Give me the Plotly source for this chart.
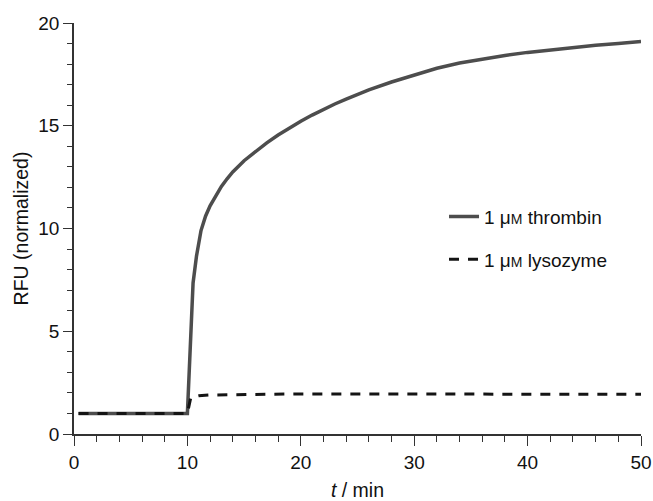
import plotly.graph_objects as go

# Thrombin trace (t in min, RFU normalized)
t_thrombin = [0.4, 2, 4, 6, 8, 10.0, 10.5, 10.8, 11.2, 11.6, 12, 12.5, 13, 13.5, 14, 15, 16,
              17, 18, 19, 20, 21, 22, 23, 24, 26, 28, 30, 32, 34, 36, 38, 40, 42, 44, 46,
              48, 50]
rfu_thrombin = [1.0, 1.0, 1.0, 1.0, 1.0, 1.0, 7.35, 8.65, 9.9, 10.6, 11.1, 11.62, 12.05,
                12.42, 12.75, 13.3, 13.75, 14.17, 14.55, 14.9, 15.22, 15.52, 15.8, 16.06,
                16.3, 16.75, 17.13, 17.48, 17.8, 18.05, 18.25, 18.42, 18.57, 18.7, 18.82,
                18.92, 19.0, 19.1]

# Lysozyme trace
t_lysozyme = [0.4, 2, 4, 6, 8, 10.0, 10.3, 11, 12, 15, 20, 25, 30, 35, 40, 45, 50]
rfu_lysozyme = [1.0, 1.0, 1.0, 1.0, 1.0, 1.0, 1.78, 1.86, 1.9, 1.93, 1.95, 1.95, 1.95,
                1.95, 1.94, 1.94, 1.93]

names = ["1 μ<span style='font-size:14px'>M</span> thrombin",
         "1 μ<span style='font-size:14px'>M</span> lysozyme"]

x_ticks = [0, 10, 20, 30, 40, 50]
y_ticks = [0, 5, 10, 15, 20]

FONT = "Liberation Sans, Arial, Helvetica, sans-serif"

fig = go.Figure()
fig.add_trace(go.Scatter(x=t_thrombin, y=rfu_thrombin, mode="lines", name=names[0],
                         line=dict(color="#4d4d4d", width=3.5),
                         legendgroup="a"))
fig.add_trace(go.Scatter(x=t_lysozyme, y=rfu_lysozyme, mode="lines", name=names[1],
                         line=dict(color="#141414", width=3, dash="10px,9px"),
                         legendgroup="b"))

axis_common = dict(showgrid=False, zeroline=False, showline=True, linecolor="#333",
                   linewidth=1.5, ticks="outside", tickcolor="#333", tickwidth=1.3,
                   automargin=False,
                   tickfont=dict(family=FONT, size=19, color="#111"))

fig.update_layout(
    width=653, height=501,
    margin=dict(l=74, r=12, t=23, b=67),
    paper_bgcolor="white", plot_bgcolor="white",
    font=dict(family=FONT, size=19, color="#111"),
    showlegend=True,
    legend=dict(x=0.6526, y=0.575, xanchor="left", yanchor="top",
                bgcolor="rgba(0,0,0,0)", font=dict(size=19, family=FONT, color="#111"),
                tracegroupgap=15),
    xaxis=dict(range=[0, 50], tickvals=x_ticks, ticklen=10,
               minor=dict(dtick=2, ticklen=6, ticks="outside", tickcolor="#333", tickwidth=1.2),
               title=dict(text="<i>t</i> / min", font=dict(family=FONT, size=19.5), standoff=15),
               **axis_common),
    yaxis=dict(range=[0, 20], tickvals=y_ticks, ticklen=9,
               minor=dict(dtick=1, ticklen=5, ticks="outside", tickcolor="#333", tickwidth=1.2),
               title=dict(text="RFU (normalized)", font=dict(family=FONT, size=19.5), standoff=4),
               **axis_common),
)

fig.write_html("out.html")
